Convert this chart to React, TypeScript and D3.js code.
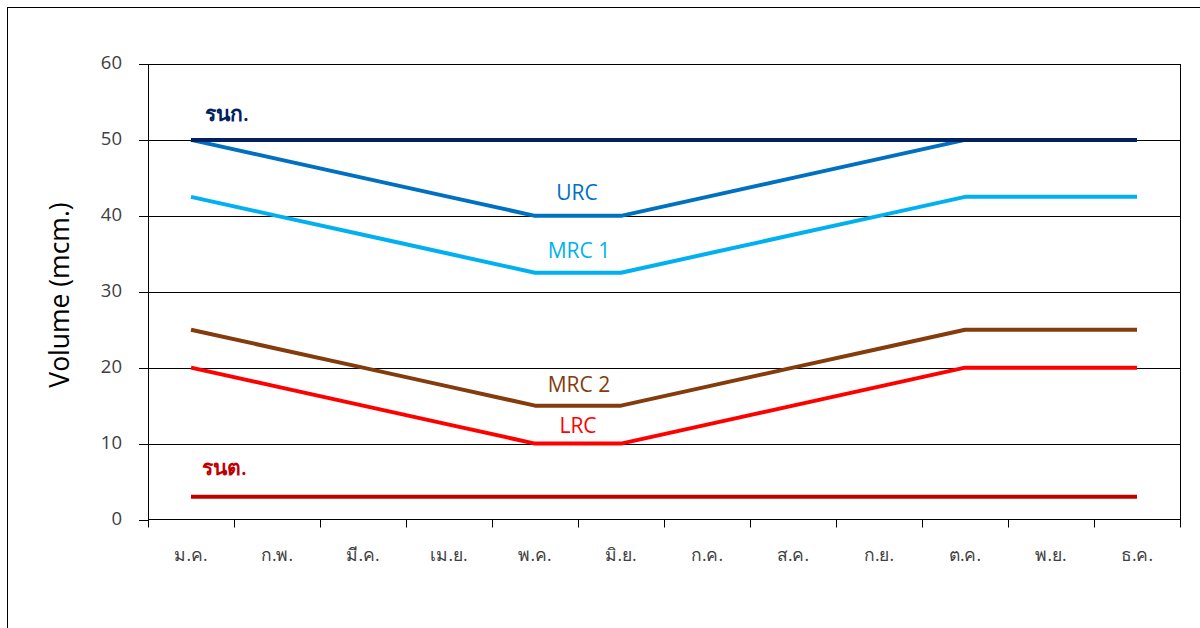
import React from "react";
import * as d3 from "d3";

const months = ["ม.ค.", "ก.พ.", "มี.ค.", "เม.ย.", "พ.ค.", "มิ.ย.", "ก.ค.", "ส.ค.", "ก.ย.", "ต.ค.", "พ.ย.", "ธ.ค."];
const yTicks = [0, 10, 20, 30, 40, 50, 60];

const seriesRNK = [50, 50, 50, 50, 50, 50, 50, 50, 50, 50, 50, 50];
const seriesURC = [50, 47.5, 45, 42.5, 40, 40, 42.5, 45, 47.5, 50, 50, 50];
const seriesMRC1 = [42.5, 40, 37.5, 35, 32.5, 32.5, 35, 37.5, 40, 42.5, 42.5, 42.5];
const seriesMRC2 = [25, 22.5, 20, 17.5, 15, 15, 17.5, 20, 22.5, 25, 25, 25];
const seriesLRC = [20, 17.5, 15, 12.5, 10, 10, 12.5, 15, 17.5, 20, 20, 20];
const seriesRNT = [3, 3, 3, 3, 3, 3, 3, 3, 3, 3, 3, 3];

const W = 1200, H = 628;
const left = 148, right = 1180, top = 64, bottom = 519.5;

export default function App() {
  const x = d3.scaleBand<string>().domain(months).range([left, right]).padding(0);
  const y = d3.scaleLinear().domain([0, 60]).range([bottom, top]);
  const cx = (i: number) => (x(months[i]) as number) + x.bandwidth() / 2;
  const line = d3.line<number>().x((_, i) => cx(i)).y((d) => y(d));

  const series = [
    { data: seriesMRC2, color: "#843C0C" },
    { data: seriesLRC, color: "#FF0000" },
    { data: seriesRNT, color: "#C00000" },
    { data: seriesMRC1, color: "#00B0F0" },
    { data: seriesURC, color: "#0070C0" },
    { data: seriesRNK, color: "#002060" },
  ];

  const font = "'Open Sans', 'Noto Sans', 'DejaVu Sans', sans-serif";
  const tickEdges = [...months.map((m) => x(m) as number), right];

  return (
    <svg width={W} height={H} style={{ position: "absolute", left: 0, top: 0, background: "#fff" }} fontFamily={font}>
      <rect x={7.5} y={7.5} width={1300} height={700} fill="#fff" stroke="#000" strokeWidth={1} />
      {yTicks.filter((t) => t > 0).map((t) => (
        <line key={t} x1={left} x2={right} y1={Math.round(y(t)) + 0.5} y2={Math.round(y(t)) + 0.5} stroke="#000" strokeWidth={1} />
      ))}
      <line x1={right + 0.5} x2={right + 0.5} y1={top} y2={bottom} stroke="#000" />
      <line x1={left + 0.5} x2={left + 0.5} y1={top} y2={bottom} stroke="#000" />
      {yTicks.map((t) => (
        <g key={t}>
          <line x1={left - 9} x2={left} y1={Math.round(y(t)) + 0.5} y2={Math.round(y(t)) + 0.5} stroke="#000" />
          <text x={122} y={y(t) - 1} dy="0.35em" textAnchor="end" fontSize={18.5} fill="#404040">{t}</text>
        </g>
      ))}
      <line x1={left} x2={right + 1} y1={bottom} y2={bottom} stroke="#000" />
      {tickEdges.map((e, i) => (
        <line key={i} x1={Math.round(e) + 0.5} x2={Math.round(e) + 0.5} y1={bottom} y2={bottom + 8} stroke="#000" />
      ))}
      {months.map((m, i) => (
        <text key={m} x={cx(i)} y={555} dy="0.35em" textAnchor="middle" fontSize={17.5} fill="#404040">{m}</text>
      ))}
      <text transform={`translate(60, ${295}) rotate(-90)`} textAnchor="middle" dy="0.35em" fontSize={26.5} fill="#000">Volume (mcm.)</text>
      {series.map((s, i) => (
        <path key={i} d={line(s.data) || ""} fill="none" stroke={s.color} strokeWidth={4} strokeLinejoin="round" />
      ))}
      <text x={205} y={114} dy="0.35em" fontSize={21} fontWeight={600} fill="#002060">รนก.</text>
      <text x={577} y={193} dy="0.35em" textAnchor="middle" fontSize={21} fill="#0070C0">URC</text>
      <text x={579} y={251} dy="0.35em" textAnchor="middle" fontSize={21} fill="#00B0F0">MRC 1</text>
      <text x={579} y={385} dy="0.35em" textAnchor="middle" fontSize={21} fill="#843C0C">MRC 2</text>
      <text x={578} y={426} dy="0.35em" textAnchor="middle" fontSize={21} fill="#FF0000">LRC</text>
      <text x={202} y={468} dy="0.35em" fontSize={21} fontWeight={600} fill="#C00000">รนต.</text>
    </svg>
  );
}
